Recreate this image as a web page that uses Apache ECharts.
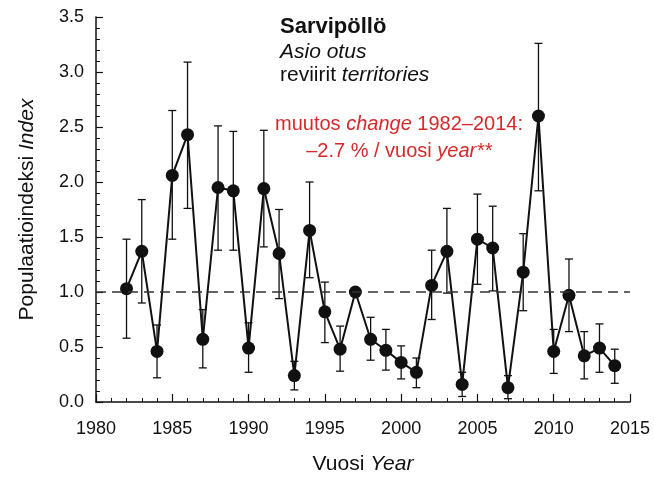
<!DOCTYPE html>
<html>
<head>
<meta charset="utf-8">
<script src="https://cdn.jsdelivr.net/npm/echarts@6/dist/echarts.min.js"></script>
<style>
    html, body { margin: 0; padding: 0; background: #fff; }
    #chart { width: 654px; height: 477px; }
</style>
</head>
<body>
<div id="chart"></div>
<script>
    // vuodet / years
    let years = [1982, 1983, 1984, 1985, 1986, 1987, 1988, 1989, 1990, 1991, 1992,
        1993, 1994, 1995, 1996, 1997, 1998, 1999, 2000, 2001, 2002, 2003,
        2004, 2005, 2006, 2007, 2008, 2009, 2010, 2011, 2012, 2013, 2014];
    // indeksi
    let index = [1.03, 1.37, 0.46, 2.06, 2.43, 0.57, 1.95, 1.92, 0.49, 1.94, 1.35,
        0.24, 1.56, 0.82, 0.48, 1.00, 0.57, 0.47, 0.36, 0.27, 1.06, 1.37,
        0.16, 1.48, 1.40, 0.13, 1.18, 2.60, 0.46, 0.97, 0.42, 0.49, 0.33];
    // virherajat (1997 = perusvuosi, ei virhepalkkia)
    let lower = [0.58, 0.90, 0.22, 1.48, 1.76, 0.31, 1.38, 1.38, 0.27, 1.41, 0.94,
        0.11, 1.13, 0.54, 0.28, null, 0.38, 0.29, 0.21, 0.13, 0.75, 0.99,
        0.05, 1.07, 1.01, 0.03, 0.83, 1.92, 0.26, 0.64, 0.21, 0.27, 0.17];
    let upper = [1.48, 1.84, 0.70, 2.65, 3.09, 0.84, 2.51, 2.46, 0.72, 2.47, 1.75,
        0.37, 2.00, 1.09, 0.69, null, 0.77, 0.66, 0.51, 0.40, 1.38, 1.76,
        0.27, 1.89, 1.78, 0.24, 1.53, 3.26, 0.66, 1.30, 0.64, 0.71, 0.48];
    let xTicks = [1980, 2015, 5];
    let yTicks = [0, 3.5, 0.5];

    let font = '"Liberation Sans", Arial, sans-serif';
    let ink = '#111';
    let red = '#d42a2c';

    let points = years.map((y, i) => [y, index[i]]);
    let bars = [];
    years.forEach((y, i) => {
        if (lower[i] != null) {
            bars.push([y, lower[i], upper[i]]);
        }
    });

    let mChart = echarts.init(document.getElementById('chart'));
    let options = {
        animation: false,
        grid: {
            left: 96,
            right: 24,
            top: 17,
            bottom: 75,
            outerBoundsMode: 'none'
        },
        xAxis: {
            type: 'value',
            min: xTicks[0],
            max: xTicks[1],
            interval: xTicks[2],
            name: '{a|Vuosi }{b|Year}',
            nameLocation: 'middle',
            nameGap: 52,
            nameTextStyle: {
                rich: {
                    a: { fontSize: 21, fontFamily: font, color: ink },
                    b: { fontSize: 21, fontFamily: font, color: ink, fontStyle: 'italic' }
                }
            },
            splitLine: { show: false },
            axisLine: { lineStyle: { color: ink, width: 1.5 } },
            axisTick: { inside: true, length: 8, lineStyle: { color: ink, width: 1.2 } },
            minorTick: { show: true, splitNumber: 5, length: 4, lineStyle: { color: ink, width: 1 } },
            axisLabel: {
                fontSize: 18,
                fontFamily: font,
                color: ink,
                margin: 18,
                formatter: v => String(v)
            }
        },
        yAxis: {
            type: 'value',
            min: yTicks[0],
            max: yTicks[1],
            interval: yTicks[2],
            name: '{a|Populaatioindeksi }{b|Index}',
            nameLocation: 'middle',
            nameGap: 58,
            nameTextStyle: {
                rich: {
                    a: { fontSize: 21, fontFamily: font, color: ink },
                    b: { fontSize: 21, fontFamily: font, color: ink, fontStyle: 'italic' }
                }
            },
            splitLine: { show: false },
            axisLine: { show: true, lineStyle: { color: ink, width: 1.5 } },
            axisTick: { show: true, inside: true, length: 7, lineStyle: { color: ink, width: 1.2 } },
            minorTick: { show: true, splitNumber: 5, length: 4, lineStyle: { color: ink, width: 1 } },
            axisLabel: {
                fontSize: 18,
                fontFamily: font,
                color: ink,
                margin: 12,
                formatter: v => v.toFixed(1)
            }
        },
        series: [
            {
                // virhepalkit
                type: 'custom',
                data: bars,
                z: 2,
                renderItem: function (params, api) {
                    let x = api.value(0);
                    let lo = api.coord([x, api.value(1)]);
                    let hi = api.coord([x, api.value(2)]);
                    let w = 4;
                    let st = { stroke: ink, lineWidth: 1.3 };
                    return {
                        type: 'group',
                        children: [
                            { type: 'line', shape: { x1: lo[0], y1: lo[1], x2: hi[0], y2: hi[1] }, style: st },
                            { type: 'line', shape: { x1: hi[0] - w, y1: hi[1], x2: hi[0] + w, y2: hi[1] }, style: st },
                            { type: 'line', shape: { x1: lo[0] - w, y1: lo[1], x2: lo[0] + w, y2: lo[1] }, style: st }
                        ]
                    };
                }
            },
            {
                type: 'line',
                data: points,
                z: 3,
                symbol: 'circle',
                symbolSize: 13,
                lineStyle: { color: ink, width: 2 },
                itemStyle: { color: ink },
                markLine: {
                    silent: true,
                    symbol: 'none',
                    label: { show: false },
                    lineStyle: { color: '#333', width: 1.5, type: [10, 6] },
                    data: [{ yAxis: 1 }]
                }
            }
        ],
        graphic: [
            {
                type: 'text', x: 280, y: 16,
                style: { text: 'Sarvipöllö', font: 'bold 22px ' + font, fill: ink }
            },
            {
                type: 'text', x: 280, y: 42,
                style: { text: 'Asio otus', font: 'italic 21px ' + font, fill: ink }
            },
            {
                type: 'text', x: 280, y: 65,
                style: {
                    text: '{a|reviirit }{b|territories}',
                    rich: {
                        a: { fontSize: 21, fontFamily: font, fill: ink },
                        b: { fontSize: 21, fontFamily: font, fill: ink, fontStyle: 'italic' }
                    }
                }
            },
            {
                type: 'text', x: 399, y: 114,
                style: {
                    text: '{a|muutos }{b|change}{a| 1982–2014:}',
                    align: 'center',
                    rich: {
                        a: { fontSize: 20, fontFamily: font, fill: red },
                        b: { fontSize: 20, fontFamily: font, fill: red, fontStyle: 'italic' }
                    }
                }
            },
            {
                type: 'text', x: 399, y: 141,
                style: {
                    text: '{a|–2.7 % / vuosi }{b|year**}',
                    align: 'center',
                    rich: {
                        a: { fontSize: 20, fontFamily: font, fill: red },
                        b: { fontSize: 20, fontFamily: font, fill: red, fontStyle: 'italic' }
                    }
                }
            }
        ]
    };
    mChart.setOption(options);
</script>
</body>
</html>
